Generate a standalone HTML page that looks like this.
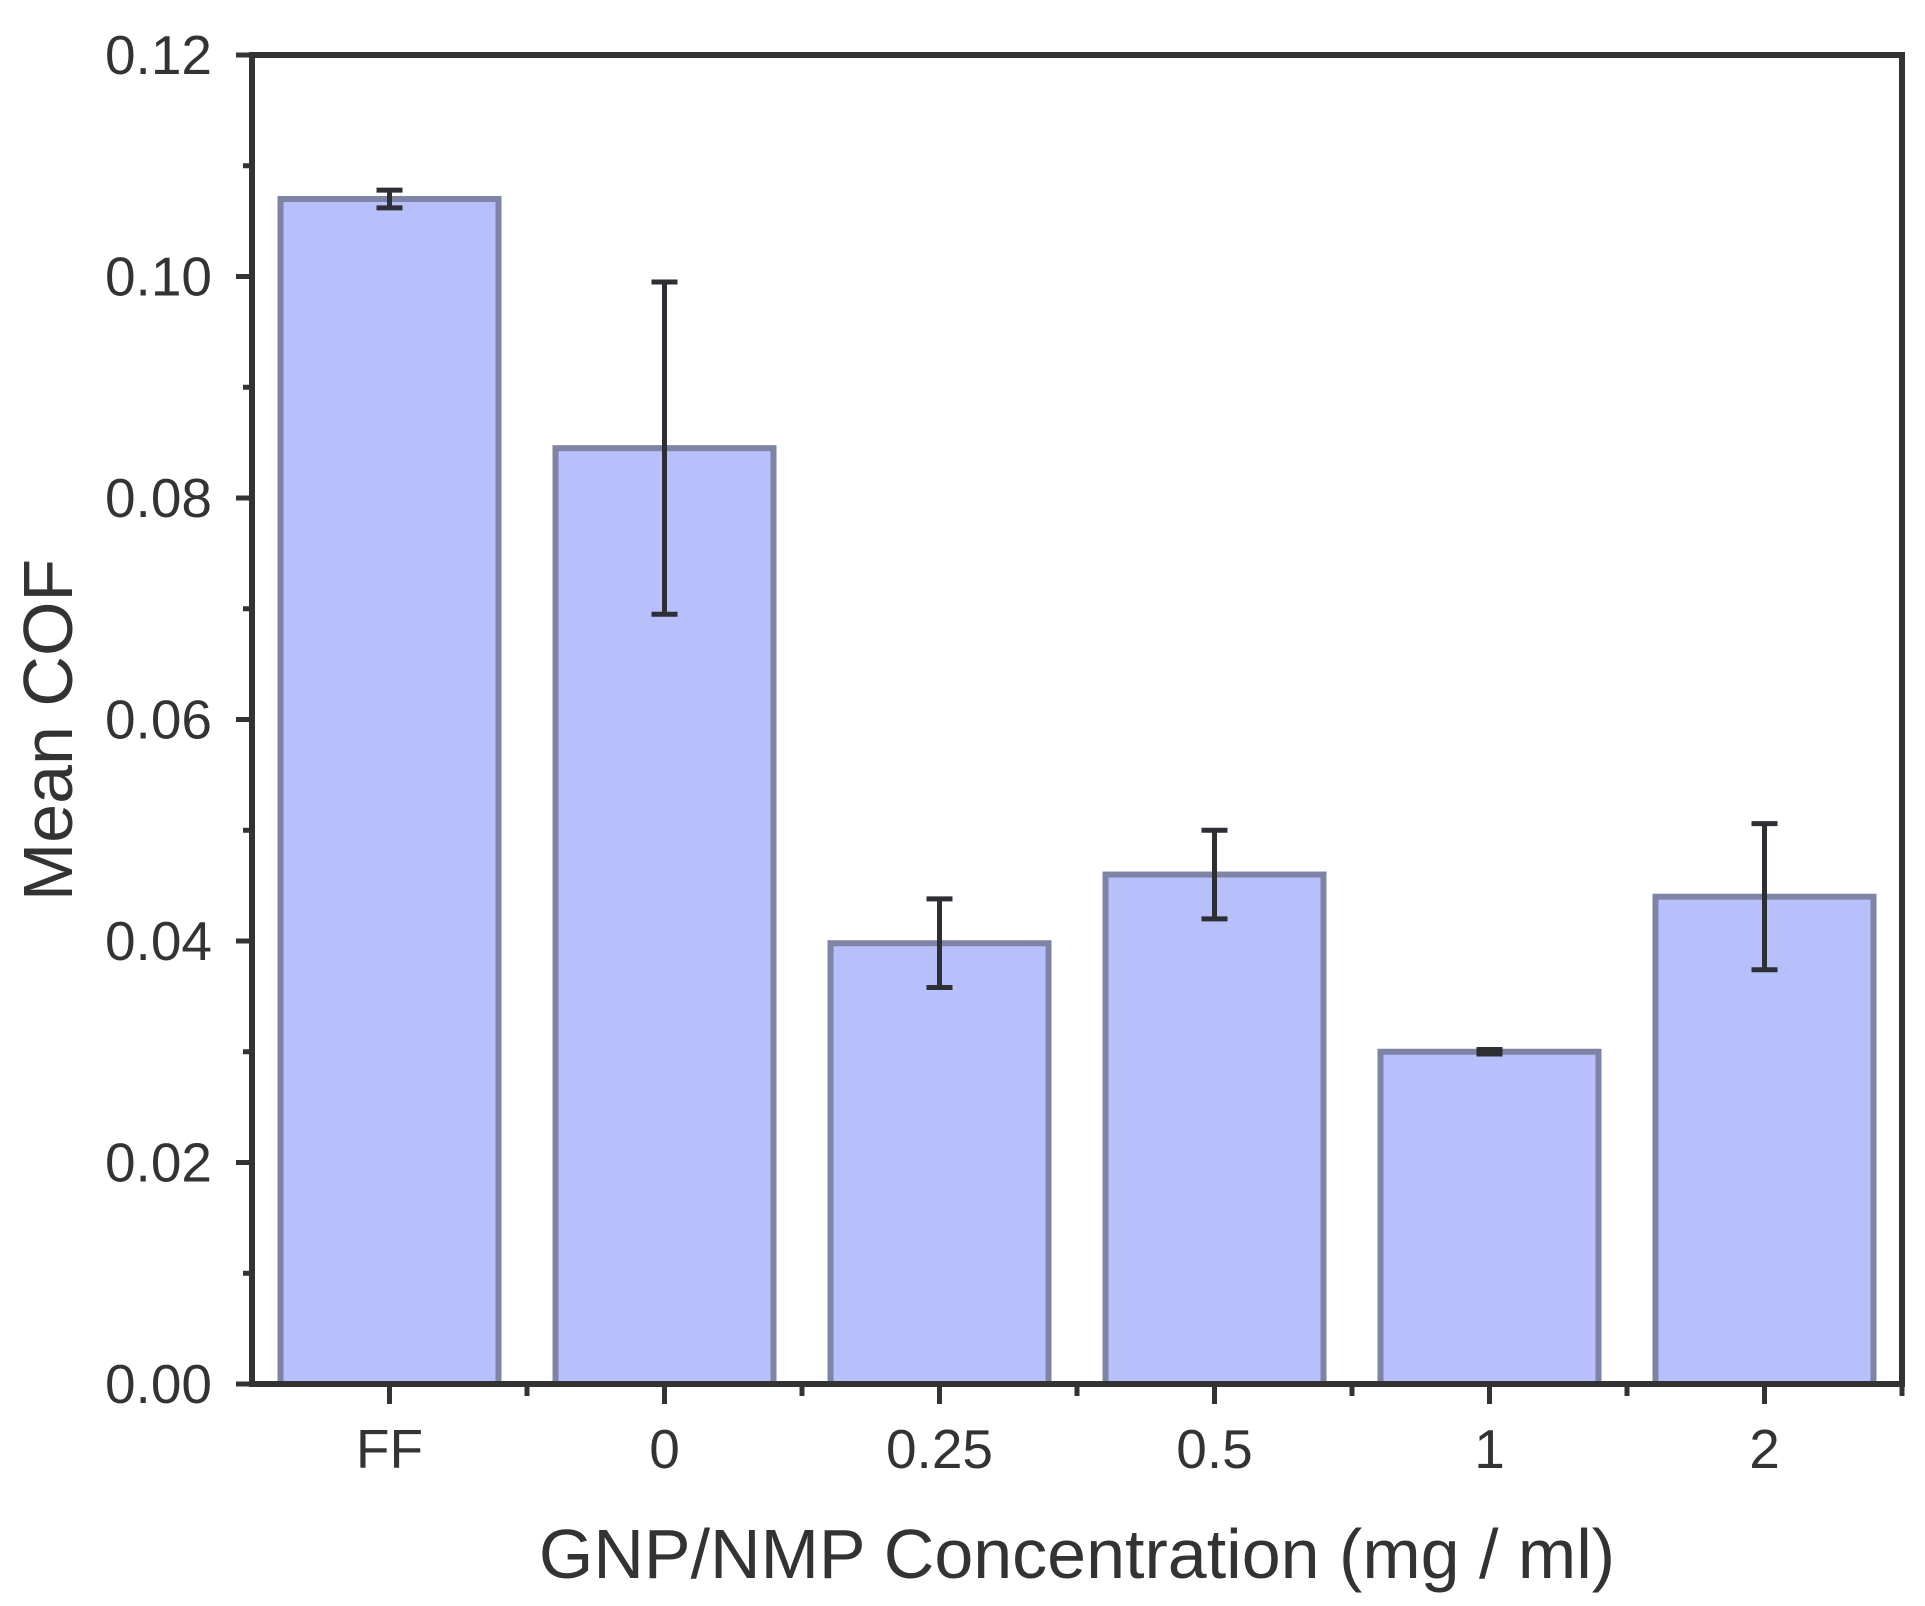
<!DOCTYPE html>
<html><head><meta charset="utf-8"><style>
body{margin:0;background:#fff}
svg{display:block;font-family:"Liberation Sans",Arial,sans-serif}
</style></head><body>
<svg id="chart" width="1925" height="1606" viewBox="0 0 1925 1606" xmlns="http://www.w3.org/2000/svg"></svg>
<script>
const categories = ["FF","0","0.25","0.5","1","2"];
const values = [0.107,0.0845,0.0398,0.046,0.0300,0.0440];
const errors = [0.0008,0.015,0.004,0.004,0.0002,0.0066];
const yTicks = [0,0.02,0.04,0.06,0.08,0.10,0.12];
const yTickLabels = ["0.00","0.02","0.04","0.06","0.08","0.10","0.12"];

const L=252,R=1902,T=55,B=1384,yMax=0.12;
const band=(R-L)/categories.length, bw=218;
const y=v=>B-(v/yMax)*(B-T);
const x=i=>L+band*(i+0.5);
const svg=document.getElementById('chart');
const NS='http://www.w3.org/2000/svg';
function mk(tag,attrs,parent){const e=document.createElementNS(NS,tag);for(const k in attrs)e.setAttribute(k,attrs[k]);(parent||svg).appendChild(e);return e;}

const bars=mk('g',{});


categories.forEach((c,i)=>{
  const r=mk('rect',{x:x(i)-bw/2,y:y(values[i]),width:bw,height:B-y(values[i]),fill:'#b8c0fb',stroke:'#7e84a6','stroke-width':6},bars);
  
  
  const g=mk('g',{stroke:'#2e2e35','stroke-width':5},bars);
  
  
  const y1=y(values[i]+errors[i]),y2=y(values[i]-errors[i]);
  mk('line',{x1:x(i),x2:x(i),y1:y1,y2:y2},g);
  mk('line',{x1:x(i)-13,x2:x(i)+13,y1:y1,y2:y1},g);
  mk('line',{x1:x(i)-13,x2:x(i)+13,y1:y2,y2:y2},g);
});

const ax=mk('g',{stroke:'#333',fill:'none','stroke-width':6});


mk('rect',{x:L,y:T,width:R-L,height:B-T},ax);

const yAxis=mk('g',{});


yTicks.forEach((v,i)=>{
  mk('line',{x1:L-16,x2:L,y1:y(v),y2:y(v),stroke:'#333','stroke-width':5},yAxis);
  if(i<yTicks.length-1){const m=v+0.01;mk('line',{x1:L-9,x2:L,y1:y(m),y2:y(m),stroke:'#333','stroke-width':5},yAxis);}
  const t=mk('text',{x:L-40,y:y(v)+19,'text-anchor':'end','font-size':55,fill:'#333'},yAxis);
  t.textContent=yTickLabels[i];
  
  
});

const xAxis=mk('g',{});


categories.forEach((c,i)=>{
  mk('line',{x1:x(i),x2:x(i),y1:B,y2:B+20,stroke:'#333','stroke-width':5},xAxis);
  mk('line',{x1:L+band*(i+1),x2:L+band*(i+1),y1:B,y2:B+12,stroke:'#333','stroke-width':5},xAxis);
  const t=mk('text',{x:x(i),y:1468,'text-anchor':'middle','font-size':55,fill:'#333'},xAxis);
  t.textContent=c;
  
  
});

const xt=mk('text',{x:1077,y:1578,'text-anchor':'middle','font-size':70,fill:'#333'});
xt.textContent='GNP/NMP Concentration (mg / ml)';


const yt=mk('text',{x:0,y:0,'text-anchor':'middle','font-size':70,fill:'#333',transform:'translate(72,730) rotate(-90)'});
yt.textContent='Mean COF';


</script>
</body></html>
